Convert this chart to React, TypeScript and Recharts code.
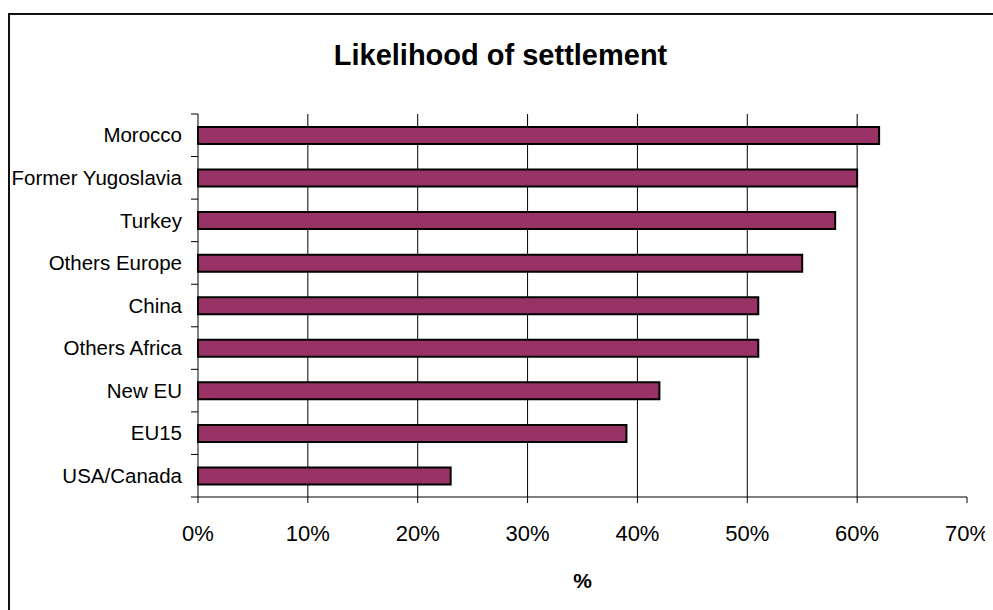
import { BarChart, Bar, XAxis, YAxis, CartesianGrid } from "recharts";

const countries = [
  "Morocco",
  "Former Yugoslavia",
  "Turkey",
  "Others Europe",
  "China",
  "Others Africa",
  "New EU",
  "EU15",
  "USA/Canada",
];
const settlement = [62, 60, 58, 55, 51, 51, 42, 39, 23];
const xTicks = [0, 10, 20, 30, 40, 50, 60, 70];

const data = countries.map((name, i) => ({ name, value: settlement[i] }));

const W = 985;
const H = 589;
const PLOT_H = 383;
const band = PLOT_H / countries.length;
const font = "'Liberation Sans', Arial, sans-serif";

const YTick = (props: any) => {
  const { x, y, payload, index } = props;
  const last = index === countries.length - 1;
  return (
    <g>
      <line x1={x - 7} x2={x} y1={y - band / 2} y2={y - band / 2} stroke="#000" />
      {last && (
        <line x1={x - 7} x2={x} y1={y + band / 2} y2={y + band / 2} stroke="#000" />
      )}
      <text
        x={x - 16}
        y={y}
        dy="0.35em"
        textAnchor="end"
        fontSize={20.5}
        fontFamily={font}
        fill="#000"
      >
        {payload.value}
      </text>
    </g>
  );
};

export default function App() {
  return (
    <div style={{ position: "relative", width: W, height: H, marginTop: 5, fontFamily: font }}>
      <div
        style={{
          position: "absolute",
          top: 26,
          left: 0,
          width: W,
          textAlign: "center",
          fontSize: 29,
          fontWeight: "bold",
          lineHeight: "32px",
        }}
      >
        Likelihood of settlement
      </div>
      <BarChart
        width={W}
        height={H}
        data={data}
        layout="vertical"
        margin={{ top: 101, right: 26, left: 0, bottom: 0 }}
        barSize={17}
      >
        <CartesianGrid
          horizontal={false}
          stroke="#000"
          verticalValues={[10, 20, 30, 40, 50, 60]}
        />
        <XAxis
          type="number"
          domain={[0, 70]}
          ticks={xTicks}
          tickFormatter={(v) => `${v}%`}
          height={105}
          tickSize={6}
          tickMargin={22}
          stroke="#000"
          tick={{ fill: "#000", fontSize: 22, fontFamily: font }}
          label={{
            value: "%",
            position: "insideBottom",
            offset: 14,
            fill: "#000",
            fontSize: 21,
            fontWeight: "bold",
            fontFamily: font,
          }}
        />
        <YAxis
          type="category"
          dataKey="name"
          width={190}
          interval={0}
          tickSize={0}
          tickMargin={0}
          stroke="#000"
          tick={<YTick />}
        />
        <Bar
          dataKey="value"
          fill="#993366"
          stroke="#000"
          strokeWidth={2}
          isAnimationActive={false}
        />
      </BarChart>
      <div
        style={{
          position: "fixed",
          left: 8,
          top: 13,
          width: 1000,
          height: 620,
          borderLeft: "2px solid #111",
          borderTop: "2px solid #111",
          pointerEvents: "none",
        }}
      />
    </div>
  );
}
